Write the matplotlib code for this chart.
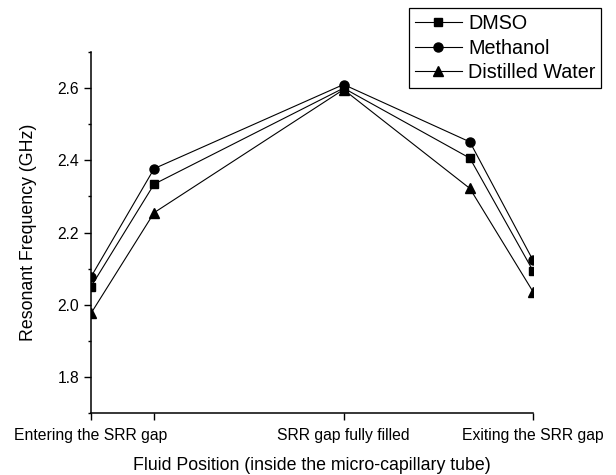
import numpy as np
import matplotlib
matplotlib.use("Agg")
import matplotlib.pyplot as plt
from matplotlib.ticker import MultipleLocator

plt.rcParams['font.family'] = ['Liberation Sans', 'DejaVu Sans']

# fluid position along the capillary (arbitrary units)
position = [0, 1, 4, 6, 7]
tick_pos = [0, 1, 4, 7]
tick_labels = ["Entering the SRR gap", "", "SRR gap fully filled", "Exiting the SRR gap"]

dmso = [2.050, 2.334, 2.600, 2.406, 2.094]
methanol = [2.077, 2.377, 2.610, 2.451, 2.123]
water = [1.976, 2.255, 2.596, 2.322, 2.036]

fig = plt.figure(figsize=(6.16, 4.75), dpi=100)
ax = fig.add_axes([0.1477, 0.1305, 0.7176, 0.76])

ax.plot(position, dmso, color='black', lw=0.8, marker='s', ms=6, label='DMSO')
ax.plot(position, methanol, color='black', lw=0.8, marker='o', ms=6.5, label='Methanol')
ax.plot(position, water, color='black', lw=0.8, marker='^', ms=7, label='Distilled Water')

ax.set_xlim(0, 7)
ax.set_ylim(1.7, 2.7)
ax.set_xticks(tick_pos)
ax.set_xticklabels(tick_labels, fontsize=11.3)
ax.yaxis.set_major_locator(MultipleLocator(0.2))
ax.yaxis.set_minor_locator(MultipleLocator(0.1))
ax.tick_params(axis='y', labelsize=11.3)
ax.tick_params(which='major', direction='out', length=5, width=1)
ax.tick_params(axis='x', pad=6)
ax.tick_params(which='minor', direction='out', length=2.5, width=1)
ax.set_yticks([1.8, 2.0, 2.2, 2.4, 2.6])

for s in ['top', 'right']:
    ax.spines[s].set_visible(False)
for s in ['left', 'bottom']:
    ax.spines[s].set_linewidth(1.1)

ax.set_xlabel("Fluid Position (inside the micro-capillary tube)", fontsize=12.8, labelpad=10)
ax.set_ylabel("Resonant Frequency (GHz)", fontsize=12.8, labelpad=15)

leg = fig.legend(loc='upper right', bbox_to_anchor=(0.976, 0.983), fontsize=14.2,
                 fancybox=False, edgecolor='black', framealpha=1,
                 handlelength=2.4, handletextpad=0.3, labelspacing=0.28,
                 borderpad=0.3, borderaxespad=0)
leg.get_frame().set_linewidth(0.9)

fig.savefig("out.png", dpi=100)
